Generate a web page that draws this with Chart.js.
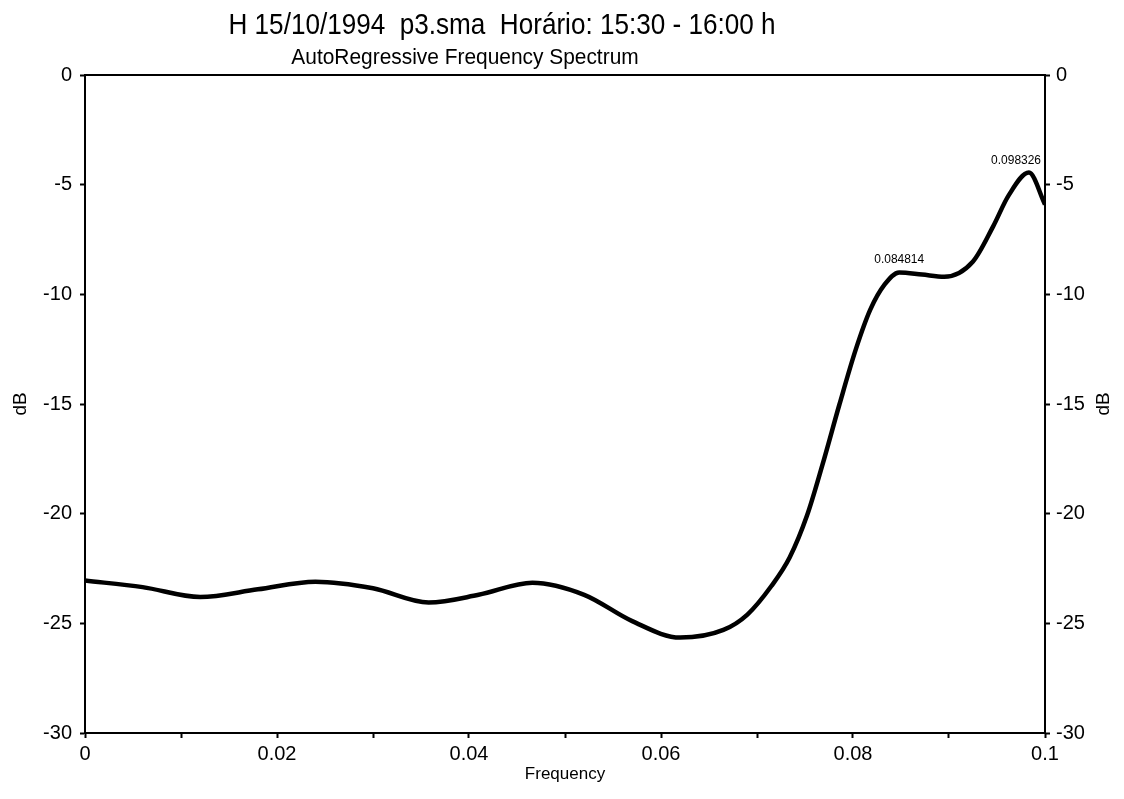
<!DOCTYPE html>
<html>
<head>
<meta charset="utf-8">
<title>AutoRegressive Frequency Spectrum</title>
<script src="https://cdn.jsdelivr.net/npm/chart.js@4.4.1/dist/chart.umd.min.js"></script>
<style>
    html, body { margin: 0; padding: 0; background: #fff; }
    #wrap { position: relative; width: 1124px; height: 799px; }
</style>
</head>
<body>
<div id="wrap"><canvas id="spectrumChart"></canvas></div>
<script>
// Spectrum samples (frequency / dB)
const frequencies = [0, 0.006, 0.012, 0.018, 0.024, 0.030, 0.0358, 0.041, 0.0466, 0.052,
    0.057, 0.062, 0.0665, 0.069, 0.0715, 0.0734, 0.0752, 0.0768, 0.0786, 0.0803,
    0.0818, 0.0833, 0.084814, 0.0872, 0.0895, 0.0925, 0.0946, 0.0962, 0.098326, 0.1];
const decibels = [-23.05, -23.35, -23.8, -23.45, -23.1, -23.4, -24.05, -23.7, -23.15, -23.7,
    -24.9, -25.65, -25.3, -24.6, -23.3, -22.0, -20.1, -17.8, -15.0, -12.5,
    -10.7, -9.55, -9.0, -9.1, -9.2, -8.5, -6.9, -5.5, -4.45, -5.9];

// Peaks that get a frequency label
const peakFrequencies = [0.084814, 0.098326];

const titleText = 'H 15/10/1994  p3.sma  Horário: 15:30 - 16:00 h';
const subtitleText = 'AutoRegressive Frequency Spectrum';

const FONT = '"Liberation Sans", Arial, sans-serif';

Chart.defaults.font.family = FONT;
Chart.defaults.color = '#000';

/**
 * Draw text squeezed horizontally (condensed look)
 */
function drawCondensed(ctx, text, cx, cy, squeeze) {
    ctx.save();
    ctx.translate(cx, cy);
    ctx.scale(squeeze, 1);
    ctx.fillText(text, 0, 0);
    ctx.restore();
}

/**
 * Titles, top frame line, right axis title and peak labels
 */
const spectrumDecor = {
    id: 'spectrumDecor',
    afterDraw(chart) {
        const ctx = chart.ctx;
        const area = chart.chartArea;
        const x = chart.scales.x;
        const y = chart.scales.y;

        ctx.save();
        ctx.strokeStyle = '#000';
        ctx.lineWidth = 2;
        ctx.beginPath();
        ctx.moveTo(area.left, area.top);
        ctx.lineTo(area.right, area.top);
        ctx.stroke();

        ctx.fillStyle = '#000';
        ctx.textAlign = 'center';
        ctx.textBaseline = 'middle';
        ctx.font = '29px ' + FONT;
        drawCondensed(ctx, titleText, 502, 26, 0.9);
        ctx.font = '22px ' + FONT;
        drawCondensed(ctx, subtitleText, 465, 58, 0.95);

        // right axis title
        ctx.save();
        ctx.translate(1104, (area.top + area.bottom) / 2);
        ctx.rotate(-Math.PI / 2);
        ctx.font = '19px ' + FONT;
        ctx.fillText('dB', 0, 0);
        ctx.restore();

        // peak labels
        ctx.font = '13px ' + FONT;
        ctx.textBaseline = 'bottom';
        peakFrequencies.forEach(f => {
            const i = frequencies.indexOf(f);
            const label = f.toFixed(6);
            const w = ctx.measureText(label).width * 0.92;
            let px = x.getPixelForValue(f);
            px = Math.min(px, area.right - 4 - w / 2);
            const py = y.getPixelForValue(decibels[i]) - 6;
            drawCondensed(ctx, label, px, py, 0.92);
        });
        ctx.restore();
    }
};

function initSpectrumChart() {
    const ctx = document.getElementById('spectrumChart');
    const points = frequencies.map((f, i) => ({ x: f, y: decibels[i] }));

    const gridOpts = {
        display: true,
        drawOnChartArea: false,
        drawTicks: true,
        tickLength: 5,
        tickWidth: 2,
        color: '#000'
    };
    const borderOpts = { display: true, color: '#000', width: 2 };

    new Chart(ctx, {
        type: 'line',
        data: {
            datasets: [{
                data: points,
                borderColor: '#000',
                borderWidth: 4.5,
                pointRadius: 0,
                fill: false,
                cubicInterpolationMode: 'monotone',
                yAxisID: 'y'
            }]
        },
        options: {
            responsive: false,
            animation: false,
            layout: { padding: { top: 75, left: 0, right: 0, bottom: 0 } },
            plugins: {
                legend: { display: false },
                tooltip: { enabled: false }
            },
            scales: {
                x: {
                    type: 'linear',
                    min: 0,
                    max: 0.1,
                    grid: gridOpts,
                    border: borderOpts,
                    ticks: {
                        stepSize: 0.01,
                        autoSkip: false,
                        maxRotation: 0,
                        padding: 4,
                        font: { size: 20 },
                        callback: function(value) {
                            const k = Math.round(value * 100);
                            return k % 2 === 0 ? String(+(k / 100).toFixed(2)) : '';
                        }
                    },
                    title: {
                        display: true,
                        text: 'Frequency',
                        font: { size: 17 },
                        padding: { top: 0, bottom: 14 }
                    },
                    afterFit: function(scale) { scale.height = 66; }
                },
                y: {
                    position: 'left',
                    min: -30,
                    max: 0,
                    grid: gridOpts,
                    border: borderOpts,
                    ticks: { stepSize: 5, padding: 8, font: { size: 20 } },
                    title: {
                        display: true,
                        text: 'dB',
                        font: { size: 19 },
                        padding: { top: 9, bottom: 0 }
                    },
                    afterFit: function(scale) { scale.width = 85; }
                },
                y2: {
                    position: 'right',
                    min: -30,
                    max: 0,
                    grid: gridOpts,
                    border: borderOpts,
                    ticks: { stepSize: 5, padding: 6, font: { size: 20 } },
                    afterFit: function(scale) { scale.width = 79; }
                }
            }
        },
        plugins: [spectrumDecor]
    });
}

const canvas = document.getElementById('spectrumChart');
canvas.width = 1124;
canvas.height = 799;
initSpectrumChart();
</script>
</body>
</html>
